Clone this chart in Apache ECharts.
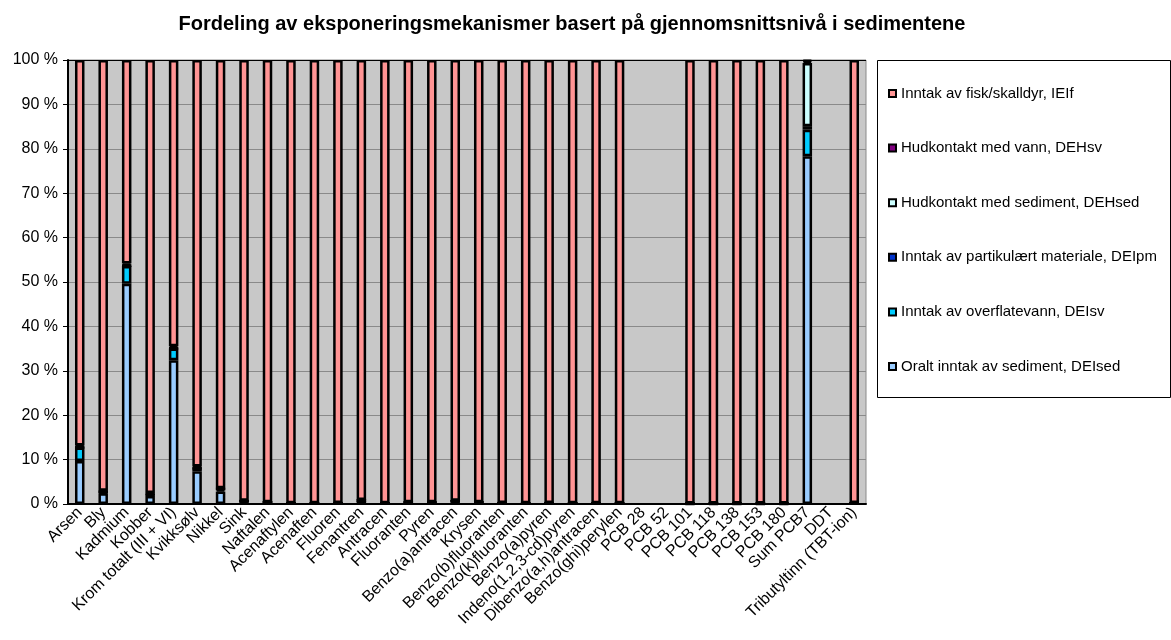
<!DOCTYPE html>
<html><head><meta charset="utf-8">
<script src="https://cdn.jsdelivr.net/npm/echarts@6/dist/echarts.min.js"></script>
<style>html,body{margin:0;padding:0;background:#fff}#c{width:1171px;height:640px}</style>
</head><body><div id="c"></div>
<script>
const title = 'Fordeling av eksponeringsmekanismer basert på gjennomsnittsnivå i sedimentene';
const categories = ['Arsen','Bly','Kadmium','Kobber','Krom totalt (III + VI)','Kvikksølv','Nikkel','Sink','Naftalen','Acenaftylen','Acenaften','Fluoren','Fenantren','Antracen','Fluoranten','Pyren','Benzo(a)antracen','Krysen','Benzo(b)fluoranten','Benzo(k)fluoranten','Benzo(a)pyren','Indeno(1,2,3-cd)pyren','Dibenzo(a,h)antracen','Benzo(ghi)perylen','PCB 28','PCB 52','PCB 101','PCB 118','PCB 138','PCB 153','PCB 180','Sum PCB7','DDT','Tributyltinn (TBT-ion)'];
const seriesNames = ['Oralt inntak av sediment, DEIsed','Inntak av overflatevann, DEIsv','Inntak av partikulært materiale, DEIpm','Hudkontakt med sediment, DEHsed','Hudkontakt med vann, DEHsv','Inntak av fisk/skalldyr, IEIf'];
// values in percent, null = no bar
const oraltSediment = [9.7,2.4,49.6,1.8,32.4,7.4,2.8,0.5,0.3,0.1,0.1,0.15,0.6,0.1,0.25,0.25,0.5,0.3,0.15,0.1,0.15,0.1,0.1,0.1,null,null,0.05,0.05,0.05,0.05,0.05,78.3,null,0.15];
const overflatevann = [3.0,0.3,4.0,0.3,2.6,0.6,0.5,0.1,0.05,0.02,0.02,0.03,0.15,0.03,0.05,0.05,0.1,0.05,0.03,0.02,0.03,0.02,0.02,0.02,null,null,0.02,0.02,0.02,0.02,0.02,6.0,null,0.03];
const partikulaert = [0.1,0.05,0.1,0.05,0.1,0.1,0.05,0.02,0.01,0.01,0.01,0.01,0.02,0.01,0.01,0.01,0.02,0.01,0.01,0.01,0.01,0.01,0.01,0.01,null,null,0.01,0.01,0.01,0.01,0.01,0.8,null,0.01];
const hudSediment = [0.05,0.02,0.05,0.02,0.05,0.05,0.02,0.01,0.01,0.01,0.01,0.01,0.01,0.01,0.01,0.01,0.01,0.01,0.01,0.01,0.01,0.01,0.01,0.01,null,null,0.01,0.01,0.01,0.01,0.01,14.2,null,0.01];
const hudVann = [0.3,0.2,0.4,0.3,0.4,0.3,0.2,0.1,0.05,0.02,0.02,0.02,0.1,0.02,0.05,0.05,0.1,0.05,0.02,0.02,0.02,0.02,0.02,0.02,null,null,0.01,0.01,0.01,0.01,0.01,0.4,null,0.02];
const fiskSkalldyr = [86.85,97.03,45.85,97.53,64.45,91.55,96.43,99.27,99.58,99.84,99.84,99.78,99.12,99.83,99.63,99.63,99.27,99.58,99.78,99.84,99.78,99.84,99.84,99.84,null,null,99.9,99.9,99.9,99.9,99.9,0.3,null,99.78];
const yTicks = [0,10,20,30,40,50,60,70,80,90,100];

const colors = ['#99CCFF','#00CCFF','#0033CC','#CCFFFF','#800080','#FF9494'];
const dataSets = [oraltSediment, overflatevann, partikulaert, hudSediment, hudVann, fiskSkalldyr];
const FONT = 'Liberation Sans, Arial, sans-serif';

const chart = echarts.init(document.getElementById('c'));
const series = seriesNames.map((n,i)=>({
  name: n, type: 'bar', stack: 'total', barWidth: 9.5,
  data: dataSets[i].map(v => v === null ? '-' : v),
  itemStyle: { color: colors[i], borderColor: '#000', borderWidth: 2.5 },
  emphasis: { disabled: true }
}));
chart.setOption({
  animation: false,
  backgroundColor: '#fff',
  title: { text: title, left: 567, textAlign: 'center', top: 9,
    textStyle: { fontFamily: FONT, fontSize: 20, fontWeight: 'bold', color: '#000' } },
  grid: { left: 68, right: 305, top: 60, bottom: 136, show: true, backgroundColor: '#C8C8C8', borderColor: '#8a8a8a', borderWidth: 1 },
  legend: {
    data: seriesNames.slice().reverse(),
    orient: 'vertical', left: 883, top: 81, itemGap: 39.6,
    icon: 'rect', itemWidth: 7, itemHeight: 7,
    itemStyle: { borderColor: '#000', borderWidth: 2 },
    textStyle: { fontFamily: FONT, fontSize: 15, color: '#000' },
    selectedMode: false
  },
  graphic: [{ type: 'rect', left: 877, top: 60, z: -1,
    shape: { width: 293, height: 337 }, style: { fill: '#fff', stroke: '#000', lineWidth: 1 } }],
  xAxis: {
    type: 'category', data: categories,
    axisLine: { lineStyle: { color: '#000', width: 2 } },
    axisTick: { lineStyle: { color: '#000', width: 1 }, length: 5 },
    axisLabel: { rotate: 45, interval: 0, margin: 6, fontFamily: FONT, fontSize: 16, color: '#000' }
  },
  yAxis: {
    type: 'value', min: 0, max: 100, interval: 10,
    axisLine: { show: true, lineStyle: { color: '#000', width: 2 } },
    axisTick: { show: true, length: 5, lineStyle: { color: '#000' } },
    axisLabel: { formatter: v => yTicks.includes(v) ? v + ' %' : '', fontFamily: FONT, fontSize: 16, color: '#000', margin: 10 },
    splitLine: { lineStyle: { color: ['#8a8a8a','#8a8a8a','#8a8a8a','#8a8a8a','#8a8a8a','#8a8a8a','#8a8a8a','#8a8a8a','#8a8a8a','#8a8a8a','#000'], width: 1 } }
  },
  series: series
});
</script></body></html>
